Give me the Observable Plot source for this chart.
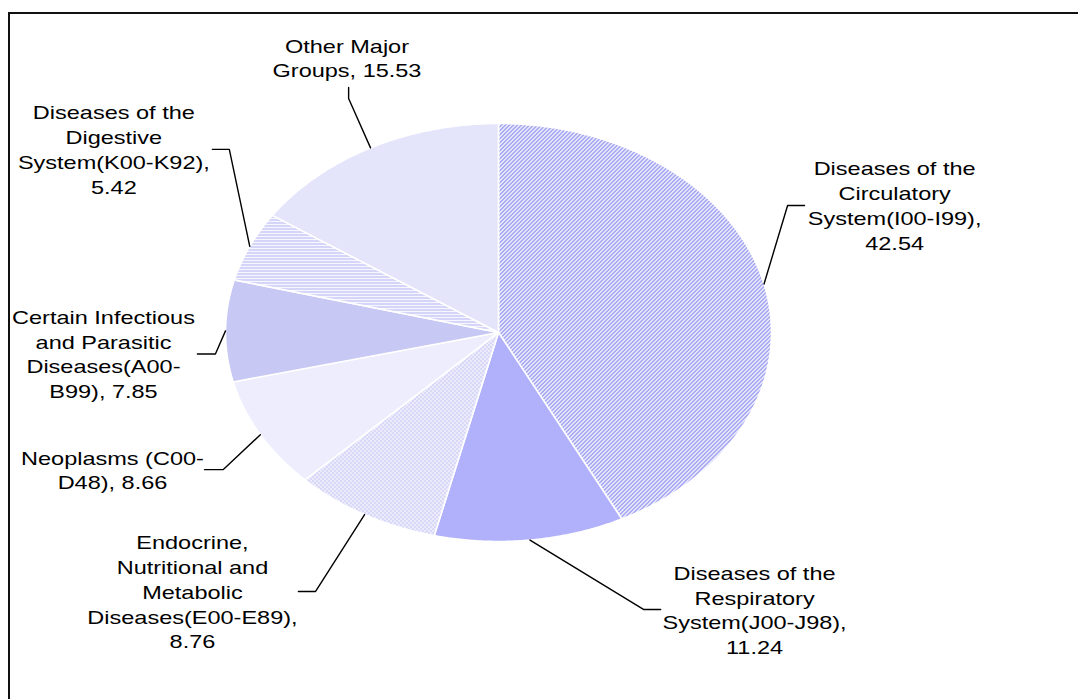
<!DOCTYPE html>
<html><head><meta charset="utf-8">
<script src="https://cdn.jsdelivr.net/npm/d3@7"></script>
<script src="https://cdn.jsdelivr.net/npm/@observablehq/plot@0.6"></script>
<style>
html,body{margin:0;padding:0;background:#fff;overflow:hidden;width:1078px;height:699px;}
#chart{position:absolute;left:0;top:0;}
#frame{position:absolute;left:8px;top:12px;width:2000px;height:2000px;border-left:2px solid #111;border-top:2px solid #111;pointer-events:none;}
</style></head><body>
<svg id="defs" width="0" height="0" style="position:absolute"><defs></defs></svg>
<div id="chart"></div>
<div id="frame"></div>
<script>
// ---- data ----
const categories = [
  "Diseases of the\nCirculatory\nSystem(I00-I99)",
  "Diseases of the\nRespiratory\nSystem(J00-J98)",
  "Endocrine,\nNutritional and\nMetabolic\nDiseases(E00-E89)",
  "Neoplasms (C00-\nD48)",
  "Certain Infectious\nand Parasitic\nDiseases(A00-\nB99)",
  "Diseases of the\nDigestive\nSystem(K00-K92)",
  "Other Major\nGroups"
];
const values = [42.54, 11.24, 8.76, 8.66, 7.85, 5.42, 15.53];
const valueOnNewLine = [true, true, true, false, false, true, false];

// ---- layout (radius units relative to the pie centre) ----
const labelPos  = [[1.451,0.612],[0.938,-1.323],[-1.121,-1.237],[-1.414,-0.653],[-1.447,-0.098],[-1.409,0.880],[-0.555,1.318]];
const elbowPos  = [[1.059,0.608],[0.531,-1.325],[-0.670,-1.239],[-1.008,-0.656],[-1.037,-0.103],[-0.986,0.876],[-0.549,1.120]];
const leaderEnd = [[1.121,0.608],[0.594,-1.325],[-0.733,-1.239],[-1.077,-0.656],[-1.103,-0.103],[-1.048,0.876],[-0.549,1.172]];

// ---- patterns (style) ----
const patternSpecs = [
  {size:4, bg:"#ffffff", fg:"#9090ee", on:(x,y)=>((x+y)%4)<2},
  {size:2, bg:"#c6c6fd", fg:"#9c9cf8", on:(x,y)=>(x+y)%2===0},
  {size:4, bg:"#ffffff", fg:"#b0b0f2", on:(x,y)=>((x+y)%4===0)||(((x-y)+4)%4===0)},
  {size:2, bg:"#fbfbff", fg:"#dedefa", on:(x,y)=>(x+y)%2===0},
  {size:2, bg:"#e6e6fa", fg:"#aaaaee", on:(x,y)=>(x+y)%2===0},
  {size:3, bg:"#f6f6ff", fg:"#b4b4f2", on:(x,y)=>y===0},
  {size:2, bg:"#efeffd", fg:"#c2c2f4", on:(x,y)=>x===0&&y===0}
];
const defs = d3.select("#defs defs");
patternSpecs.forEach((p,i)=>{
  const pat = defs.append("pattern").attr("id","pat"+i).attr("patternUnits","userSpaceOnUse")
    .attr("width",p.size).attr("height",p.size);
  pat.append("rect").attr("width",p.size).attr("height",p.size).attr("fill",p.bg);
  for(let x=0;x<p.size;x++) for(let y=0;y<p.size;y++) if(p.on(x,y))
    pat.append("rect").attr("x",x).attr("y",y).attr("width",1).attr("height",1).attr("fill",p.fg).attr("shape-rendering","crispEdges");
});

// ---- geometry derived from data ----
const total = d3.sum(values);
let acc = 0;
const slices = values.map((v,i)=>{
  const a0 = acc/total*2*Math.PI; acc += v; const a1 = acc/total*2*Math.PI;
  return {i, a0, a1, mid:(a0+a1)/2};
});
const slicePts = slices.map(s=>{
  const pts = [{x:0,y:0}];
  const n = Math.max(2, Math.ceil((s.a1-s.a0)/(Math.PI/360)));
  for(let k=0;k<=n;k++){ const a = s.a0+(s.a1-s.a0)*k/n; pts.push({x:Math.sin(a), y:Math.cos(a)}); }
  pts.push({x:0,y:0});
  return pts;
});
const leaders = slices.map((s,i)=>[
  {x:Math.sin(s.mid), y:Math.cos(s.mid)},
  {x:elbowPos[i][0], y:elbowPos[i][1]},
  {x:leaderEnd[i][0], y:leaderEnd[i][1]}
]);
const labels = categories.map((c,i)=>({
  x: labelPos[i][0], y: labelPos[i][1],
  text: c + (valueOnNewLine[i] ? ",\n" : ", ") + values[i].toFixed(2)
}));

const W = 1078, H = 699, cx = 498, cy = 332, rx = 273, ry = 209;
const font = "'Liberation Sans', Arial, sans-serif";
const plot = Plot.plot({
  width: W, height: H,
  marginLeft: cx-rx, marginRight: W-(cx+rx), marginTop: cy-ry, marginBottom: H-(cy+ry),
  x: {domain:[-1,1], axis:null},
  y: {domain:[-1,1], axis:null},
  style: {fontFamily: font, background: "transparent", overflow: "visible"},
  marks: [
    ...slicePts.map((pts,i)=>Plot.line(pts, {x:"x", y:"y", fill:`url(#pat${i})`, stroke:"white", strokeWidth:1.6, strokeLinejoin:"round"})),
    ...leaders.map(pts=>Plot.line(pts, {x:"x", y:"y", stroke:"#000", strokeWidth:1.4, strokeLinejoin:"miter"})),
    Plot.text(labels, {x:"x", y:"y", text:"text", fontSize:18, lineHeight:1.375, textAnchor:"middle", lineAnchor:"middle", fill:"#000", fontFamily:font})
  ]
});
// the reference's lettering is horizontally stretched like its pie
plot.querySelectorAll("text").forEach(t=>{
  const tr = t.getAttribute("transform");
  if (tr) t.setAttribute("transform", tr + " scale(" + (rx/ry).toFixed(3) + ",1)");
});
document.getElementById("chart").appendChild(plot);
</script>
</body></html>
